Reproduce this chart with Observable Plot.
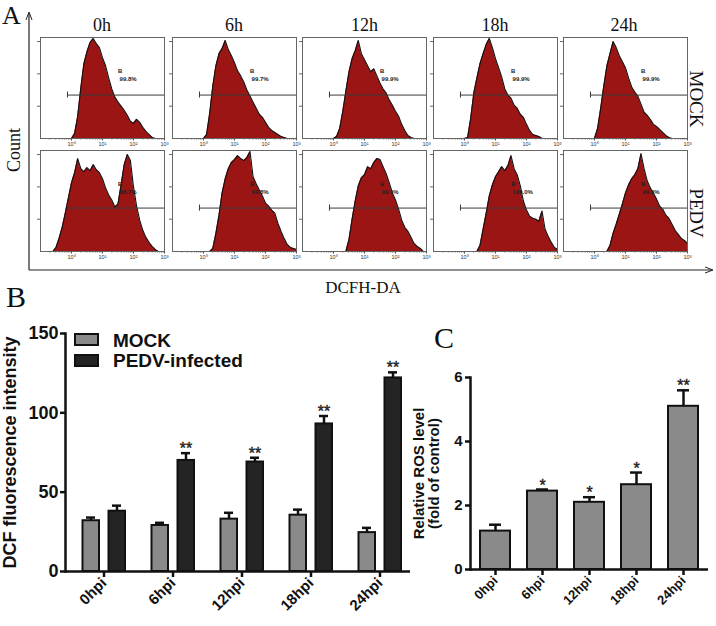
<!DOCTYPE html>
<html><head><meta charset="utf-8">
<script src="https://cdn.jsdelivr.net/npm/d3@7"></script>
<script src="https://cdn.jsdelivr.net/npm/@observablehq/plot@0.6"></script>
<style>
body{margin:0;background:#fff;}
#fig{position:relative;width:716px;height:626px;overflow:hidden;background:#fff;}
#fig > svg, #fig > figure, #fig > div.p{position:absolute;margin:0;}
</style></head><body><div id="fig"></div>
<script>
// ---------- Panel A data (flow cytometry histograms, DCFH-DA) ----------
const timesA = ["0h", "6h", "12h", "18h", "24h"];
const rowsA = ["MOCK", "PEDV"];
const logGrid = [-0.6,-0.5,-0.4,-0.3,-0.2,-0.1,0.0,0.1,0.2,0.3,0.4,0.5,0.6,0.7,0.8,0.9,1.0,1.1,1.2,1.3,1.4,1.5,1.6,1.7,1.8,1.9,2.0,2.1,2.2,2.3,2.4,2.5,2.6,2.7,2.8,2.9,3.0];
const mock0h  = [0,0,0,0,0,0,0,5,22,50,74,86,95,99,94,90,80,72,60,49,41,36,32,28,23,17,15,19,16,11,7,4,1,0,0,0,0];
const mock6h  = [0,0,0,0,0,0,0,4,25,52,72,84,89,97,88,82,75,67,62,56,48,42,36,30,24,21,16,11,8,6,4,2,1,0,0,0,0];
const mock12h = [0,0,0,0,0,0,0,2,10,27,47,66,79,87,97,84,78,72,66,69,62,55,49,45,38,33,27,22,14,8,3,1,0,0,0,0,0];
const mock18h = [0,0,0,0,0,0,0,1,20,45,60,74,84,93,99,90,79,70,61,49,43,40,33,30,24,21,14,8,4,3,2,0,0,0,0,0,0];
const mock24h = [0,0,0,0,0,0,0,10,30,52,72,84,96,90,82,76,70,60,51,46,42,34,26,23,19,14,12,9,6,3,1,0,0,0,0,0,0];
const pedv0h  = [0,4,13,24,38,53,68,78,92,82,79,83,80,86,81,78,72,63,56,51,44,47,66,86,96,90,64,45,31,21,14,9,5,2,0,0,0];
const pedv6h  = [0,0,0,0,0,0,0,0,0,3,18,36,58,72,82,88,91,95,92,90,93,99,74,67,61,55,48,45,41,38,28,20,13,7,4,3,2];
const pedv12h = [0,0,0,0,0,0,0,0,0,0,0,12,32,50,65,73,76,84,82,88,92,91,84,77,68,58,51,42,31,24,20,14,8,5,3,0,0];
const pedv18h = [0,0,0,0,0,0,0,0,0,0,0,6,22,38,55,66,74,79,84,80,85,95,82,76,65,50,41,35,33,32,30,40,22,15,9,4,2];
const pedv24h = [0,0,0,0,0,0,0,0,0,0,0,6,18,27,37,47,58,66,72,76,82,97,82,70,63,58,52,45,42,36,33,27,21,17,13,11,8];
const gatePctMock = ["99.8%", "99.7%", "99.9%", "99.9%", "99.9%"];
const gatePctPedv = ["96.7%", "99.8%", "99.9%", "100.0%", "99.9%"];
const decadeTicks = [0, 1, 2, 3];
const decadeLabels = ["10\u2070", "10\u00b9", "10\u00b2", "10\u00b3"];

// ---------- Panel B data ----------
const hpi = ["0hpi", "6hpi", "12hpi", "18hpi", "24hpi"];
const mockDCF = [32, 29, 33, 35.5, 24.5];
const mockDCFErr = [2, 1.7, 4, 3.5, 3];
const pedvDCF = [38, 70, 69, 93, 122];
const pedvDCFErr = [3.5, 4.6, 2.7, 5, 3.5];
const pedvSig = ["", "**", "**", "**", "**"];
const dcfTicks = [0, 50, 100, 150];

// ---------- Panel C data ----------
const ros = [1.2, 2.45, 2.1, 2.65, 5.1];
const rosErr = [0.2, 0.05, 0.16, 0.38, 0.5];
const rosSig = ["", "*", "*", "*", "**"];
const rosTicks = [0, 2, 4, 6];

const fig = document.getElementById("fig");
const SERIF = "'Liberation Serif','DejaVu Serif',serif";
const SANS = "'Liberation Sans',Arial,sans-serif";

function place(el, left, top) {
  el.style.position = "absolute"; el.style.left = left + "px"; el.style.top = top + "px";
  fig.appendChild(el);
}

// ---------- overlay: panel letters, facet labels, arrows, legend ----------
const NS = "http://www.w3.org/2000/svg";
const ov = document.createElementNS(NS, "svg");
ov.setAttribute("width", 716); ov.setAttribute("height", 626);
ov.style.position = "absolute"; ov.style.left = "0px"; ov.style.top = "0px";
function t(str, x, y, o = {}) {
  const e = document.createElementNS(NS, "text");
  e.textContent = str;
  e.setAttribute("x", x); e.setAttribute("y", y);
  e.setAttribute("font-family", o.family || SERIF);
  e.setAttribute("font-size", o.size || 18);
  if (o.weight) e.setAttribute("font-weight", o.weight);
  e.setAttribute("text-anchor", o.anchor || "start");
  e.setAttribute("fill", o.fill || "#111");
  if (o.rotate) e.setAttribute("transform", `rotate(${o.rotate} ${x} ${y})`);
  ov.appendChild(e);
}
function path(d, o = {}) {
  const e = document.createElementNS(NS, "path");
  e.setAttribute("d", d);
  e.setAttribute("fill", o.fill || "none");
  e.setAttribute("stroke", o.stroke || "#222");
  e.setAttribute("stroke-width", o.sw || 1.2);
  ov.appendChild(e);
}
t("A", 2, 24, {size: 26});
t("B", 6, 307, {size: 30});
t("C", 434, 348, {size: 30});
const colCenters = [102, 234, 364.5, 495, 624];
timesA.forEach((s, i) => t(s, colCenters[i], 31, {size: 18, anchor: "middle"}));
t("Count", 20, 150, {size: 18, anchor: "middle", rotate: -90});
t(rowsA[0], 690, 99, {size: 19, anchor: "middle", rotate: 90});
t(rowsA[1], 690, 213, {size: 19, anchor: "middle", rotate: 90});
t("DCFH-DA", 363, 293, {size: 17, anchor: "middle"});
path("M29 270 V14");
path("M26 20 L29 12 L32 20", {sw: 1});
path("M29 270 H712");
path("M705 267 L713 270 L705 273", {sw: 1});
// legend for panel B
const lg = [["MOCK", "#8a8a8a", 334, 347], ["PEDV-infected", "#242424", 355, 367]];
lg.forEach(([lab, col, ry, ty]) => {
  const r = document.createElementNS(NS, "rect");
  r.setAttribute("x", 75); r.setAttribute("y", ry); r.setAttribute("width", 23); r.setAttribute("height", 11);
  r.setAttribute("fill", col); r.setAttribute("stroke", "#111"); r.setAttribute("stroke-width", 2);
  ov.appendChild(r);
  t(lab, 113, ty, {family: SANS, size: 19, weight: "bold"});
});
fig.appendChild(ov);

// ---------- panel A histograms ----------
const minorTicks = [];
for (let d = -1; d < 3; d++) for (let k = 2; k <= 9; k++) minorTicks.push(d + Math.log10(k));
const histCounts = [[mock0h, mock6h, mock12h, mock18h, mock24h], [pedv0h, pedv6h, pedv12h, pedv18h, pedv24h]];
const pcts = [gatePctMock, gatePctPedv];
const frameLefts = [40, 172, 302, 433, 563];
const frameTops = [37, 150];
const FW = 124, FH = 101;
for (let r = 0; r < 2; r++) for (let c = 0; c < 5; c++) {
  const data = logGrid.map((x, i) => ({x, n: histCounts[r][c][i]}));
  const gate = [{x1: -0.13, x2: 3, y: 43}];
  const labels = [{x: 1.5, y: 67, s: "B"}, {x: 1.55, y: 59, s: pcts[r][c]}];
  const chart = Plot.plot({
    width: FW + 8, height: FH + 16,
    marginLeft: 6, marginRight: 2, marginTop: 2, marginBottom: 14,
    x: {domain: [-1, 3], axis: null, label: null},
    y: {domain: [0, 100], axis: null, label: null},
    style: {background: "none", overflow: "visible"},
    marks: [
      Plot.areaY(data, {x: "x", y: "n", fill: "#9c1515"}),
      Plot.lineY(data, {x: "x", y: "n", stroke: "#111", strokeWidth: 1.1}),
      Plot.ruleY(gate, {y: "y", x1: "x1", x2: "x2", stroke: "#3a3a3a", strokeWidth: 1}),
      Plot.ruleX(gate, {x: "x1", y1: d => d.y - 3, y2: d => d.y + 3, stroke: "#3a3a3a", strokeWidth: 1}),
      Plot.text(labels, {x: "x", y: "y", text: "s", textAnchor: "start", fontSize: 6, fontWeight: "bold", fill: "#222", fontFamily: SANS}),
      Plot.frame({stroke: "#666", strokeWidth: 1}),
      Plot.axisX(minorTicks, {tickSize: 1.5, tickFormat: () => "", stroke: "#666", label: null}),
      Plot.axisX(decadeTicks, {tickSize: 2.5, tickPadding: 1.5, fontSize: 5.5, fill: "#333", stroke: "#555",
        tickFormat: d => decadeLabels[decadeTicks.indexOf(d)], label: null, fontFamily: SANS}),
      Plot.axisY([32, 64, 96], {tickSize: 3, tickFormat: () => "", stroke: "#666", label: null})
    ]
  });
  place(chart, frameLefts[c] - 6, frameTops[r] - 2);
}

// ---------- panel B ----------
const dcfRows = hpi.map((h, i) => ({h, m: mockDCF[i], me: mockDCFErr[i], p: pedvDCF[i], pe: pedvDCFErr[i], s: pedvSig[i]}));
const chartB = Plot.plot({
  width: 420, height: 306, marginLeft: 65, marginRight: 10, marginTop: 13, marginBottom: 55,
  x: {domain: hpi, range: [67.5, 416], padding: 0, axis: null, label: null},
  y: {domain: [0, 150], axis: null, label: null},
  style: {background: "none", overflow: "visible", fontFamily: SANS},
  marks: [
    Plot.ruleX(dcfRows, {x: "h", dx: -13, y1: "m", y2: d => d.m + d.me, stroke: "#111", strokeWidth: 2.5}),
    Plot.tickY(dcfRows, {x: "h", dx: -13, y: d => d.m + d.me, insetLeft: 30, insetRight: 30, stroke: "#111", strokeWidth: 2.5}),
    Plot.ruleX(dcfRows, {x: "h", dx: 13, y1: "p", y2: d => d.p + d.pe, stroke: "#111", strokeWidth: 2.5}),
    Plot.tickY(dcfRows, {x: "h", dx: 13, y: d => d.p + d.pe, insetLeft: 30, insetRight: 30, stroke: "#111", strokeWidth: 2.5}),
    Plot.barY(dcfRows, {x: "h", y: "m", insetLeft: 13.5, insetRight: 39, fill: "#8a8a8a", stroke: "#111", strokeWidth: 2}),
    Plot.barY(dcfRows, {x: "h", y: "p", insetLeft: 39.5, insetRight: 13, fill: "#242424", stroke: "#111", strokeWidth: 2}),
    Plot.text(dcfRows, {x: "h", dx: 13, y: d => d.p + d.pe, dy: -4, text: "s", fontSize: 16, fill: "#222", stroke: "#222", strokeWidth: 0.4}),
    Plot.ruleY([0], {stroke: "#111", strokeWidth: 2.5}),
    Plot.frame({anchor: "left", stroke: "#111", strokeWidth: 2.5}),
    Plot.axisY(dcfTicks, {tickSize: 5, tickPadding: 2, fontSize: 18, fontWeight: "bold", fill: "#111", stroke: "#111", strokeWidth: 2.5,
      label: "DCF fluorescence intensity", labelAnchor: "center", labelOffset: 62, labelArrow: "none"}),
    Plot.axisX(hpi, {tickSize: 6, tickPadding: 3, tickRotate: -45, fontSize: 15, fontWeight: "bold", fill: "#111", stroke: "#111", strokeWidth: 2.5, label: null})
  ]
});
place(chartB, 0, 320);

// ---------- panel C ----------
const rosRows = hpi.map((h, i) => ({h, v: ros[i], e: rosErr[i], s: rosSig[i]}));
const chartC = Plot.plot({
  width: 356, height: 306, marginLeft: 110, marginRight: 8, marginTop: 57, marginBottom: 57,
  x: {domain: hpi, paddingInner: 0.36, paddingOuter: 0.16, axis: null, label: null},
  y: {domain: [0, 6], axis: null, label: null},
  style: {background: "none", overflow: "visible", fontFamily: SANS},
  marks: [
    Plot.ruleX(rosRows, {x: "h", y1: "v", y2: d => d.v + d.e, stroke: "#111", strokeWidth: 2.5}),
    Plot.tickY(rosRows, {x: "h", y: d => d.v + d.e, insetLeft: 9, insetRight: 9, stroke: "#111", strokeWidth: 2.5}),
    Plot.barY(rosRows, {x: "h", y: "v", fill: "#8a8a8a", stroke: "#111", strokeWidth: 2}),
    Plot.text(rosRows, {x: "h", y: d => d.v + d.e, dy: -4, text: "s", fontSize: 16, fill: "#222", stroke: "#222", strokeWidth: 0.4}),
    Plot.ruleY([0], {stroke: "#111", strokeWidth: 2.5}),
    Plot.frame({anchor: "left", stroke: "#111", strokeWidth: 2.5}),
    Plot.axisY(rosTicks, {tickSize: 5, tickPadding: 3, fontSize: 15, fontWeight: "bold", fill: "#111", stroke: "#111", strokeWidth: 2.5,
      label: "Relative ROS level\n(fold of control)", labelAnchor: "center", labelOffset: 57, labelArrow: "none"}),
    Plot.axisX(hpi, {tickSize: 6, tickPadding: 3, tickRotate: -45, fontSize: 13, fontWeight: "bold", fill: "#111", stroke: "#111", strokeWidth: 2.5, label: null})
  ]
});
place(chartC, 360, 320);
</script></body></html>
